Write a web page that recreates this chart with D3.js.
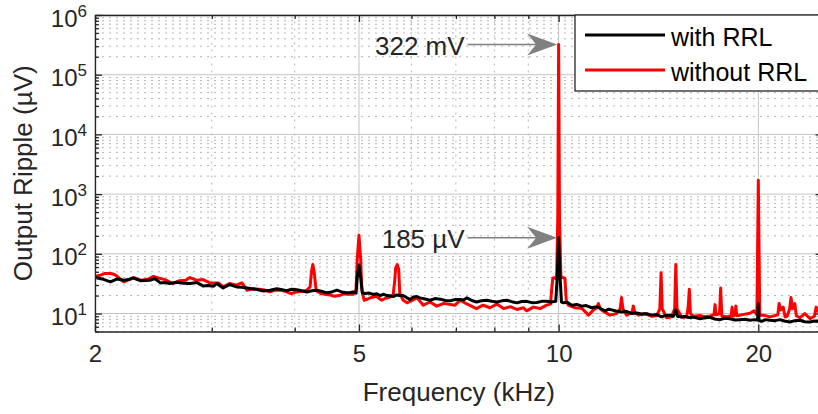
<!DOCTYPE html>
<meta charset="utf-8">
<style>
body {
  background: #fff;
  margin: 0;
  padding: 0;
}
svg {
  display: block;
  font-family: "Liberation Sans", Arial, Helvetica, sans-serif;
}
.grid-major line {
  stroke: #c4c4c4;
  stroke-width: 1px;
}
.grid-minor line {
  stroke: #b4b4b4;
  stroke-width: 1px;
  stroke-dasharray: 2,5;
}
.axis path, .axis line {
  stroke: #262626;
  stroke-width: 1.3px;
}
.axis text {
  fill: #262626;
  font-size: 24px;
}
.series {
  fill: none;
  stroke-width: 3px;
  stroke-linejoin: round;
}
.label {
  fill: #262626;
  font-size: 26px;
  text-anchor: middle;
}
.note {
  fill: #262626;
  font-size: 26px;
}
.arrow {
  stroke: #808080;
  stroke-width: 1.5px;
}
.arrowhead {
  fill: #808080;
}
.legend-box {
  fill: #fff;
  stroke: #262626;
  stroke-width: 1.3px;
}
.legend text {
  fill: #000;
  font-size: 25px;
}
</style>
<body>
<script src="https://d3js.org/d3.v7.min.js"></script>
<script>
// spectrum, frequency in kHz, ripple in uV
var freqWith = [2.00, 2.05, 2.11, 2.16, 2.21, 2.25, 2.28, 2.34, 2.42, 2.46, 2.51, 2.55, 2.59, 2.66, 2.72, 2.78,
  2.85, 2.91, 2.96, 3.02, 3.05, 3.12, 3.19, 3.27, 3.33, 3.39, 3.45, 3.51, 3.59, 3.67, 3.76, 3.83, 3.89, 3.96,
  4.03, 4.10, 4.17, 4.25, 4.32, 4.40, 4.47, 4.55, 4.63, 4.71, 4.79, 4.85, 4.90, 4.95, 4.97, 5.00, 5.03, 5.06,
  5.11, 5.18, 5.26, 5.32, 5.38, 5.45, 5.51, 5.57, 5.63, 5.70, 5.76, 5.83, 5.90, 5.97, 6.04, 6.11, 6.18, 6.29,
  6.40, 6.51, 6.63, 6.75, 6.86, 6.98, 7.10, 7.19, 7.27, 7.40, 7.52, 7.65, 7.79, 7.93, 8.07, 8.21, 8.35, 8.50,
  8.65, 8.80, 8.95, 9.11, 9.27, 9.43, 9.59, 9.75, 9.90, 9.95, 10.00, 10.05, 10.10, 10.17, 10.30, 10.47, 10.65,
  10.84, 11.00, 11.22, 11.35, 11.48, 11.62, 11.75, 11.90, 12.02, 12.20, 12.44, 12.65, 12.89, 13.10, 13.34,
  13.58, 13.82, 14.06, 14.30, 14.50, 14.72, 14.90, 15.02, 15.12, 15.33, 15.50, 15.69, 15.95, 16.34, 16.60,
  16.91, 17.20, 17.51, 17.80, 18.13, 18.45, 18.77, 19.10, 19.43, 19.75, 19.95, 20.00, 20.05, 20.24, 20.50,
  20.83, 21.20, 21.56, 21.90, 22.32, 22.70, 23.11, 23.50, 23.93, 24.30, 24.60, 25.00];
var rippleWith = [40, 38, 34, 38, 36, 37, 39.5, 35.5, 36, 38.5, 32.6, 33, 31.8, 33.5, 32, 31.8,
  33, 29, 29.5, 28.6, 31.8, 26.8, 30.5, 27.9, 27.5, 26.8, 26, 25.2, 23.8, 24.6, 26, 25, 24.2, 25.5,
  25, 24, 23, 24, 24.6, 23.5, 22.2, 23, 24.6, 23, 22.2, 22.5, 23, 22, 40, 65, 40, 22,
  21.6, 22, 20.8, 21.5, 20, 21, 20, 19.8, 19.2, 20.5, 20, 20, 18.5, 17.2, 19, 19.2, 18.3, 17.5,
  16.7, 17.8, 17.4, 16.5, 16.3, 17.2, 17.2, 16.8, 18.3, 16.5, 15.6, 16.4, 16.7, 16, 15.6, 16.3, 16.7, 15.8,
  15.1, 15.9, 16, 15.2, 15.3, 16, 16, 15.6, 16, 40, 185, 40, 15.5, 15.1, 15.5, 13.8, 14.2,
  13.3, 13.6, 12.5, 12.9, 12.8, 11.8, 11.1, 11.8, 11.5, 11, 10.6, 10.8, 10, 10.2, 9.8,
  9.9, 9.4, 9.6, 8.8, 9.3, 9.4, 9, 11.4, 8.9, 8.8, 8.9, 8.6, 8.7, 8.2, 8.5,
  8.6, 8.1, 7.9, 8.3, 8.2, 7.8, 7.9, 8, 7.7, 7.9, 7.8, 14.7, 7.6, 7.4, 7.9,
  7.7, 7.6, 7.9, 7.5, 7.2, 7.6, 7.7, 7.3, 7.2, 7.5, 7.4, 7.3];

var freqWithout = [2.00, 2.04, 2.07, 2.11, 2.14, 2.16, 2.21, 2.25, 2.29, 2.35, 2.41, 2.45, 2.51, 2.55, 2.62,
  2.68, 2.74, 2.78, 2.85, 2.91, 2.98, 3.07, 3.12, 3.19, 3.27, 3.33, 3.39, 3.47, 3.59, 3.67, 3.73, 3.81, 3.87,
  3.95, 4.03, 4.11, 4.17, 4.22, 4.24, 4.26, 4.28, 4.31, 4.38, 4.44, 4.52, 4.59, 4.67, 4.75, 4.82, 4.90, 4.95,
  4.97, 5.00, 5.03, 5.05, 5.09, 5.15, 5.22, 5.30, 5.34, 5.41, 5.48, 5.55, 5.63, 5.66, 5.68, 5.71, 5.74, 5.76,
  5.83, 5.91, 6.00, 6.12, 6.25, 6.40, 6.55, 6.71, 6.98, 7.10, 7.27, 7.52, 7.69, 7.88, 8.07, 8.26, 8.45, 8.65,
  8.85, 8.95, 9.16, 9.38, 9.59, 9.72, 9.76, 9.80, 9.86, 9.93, 9.97, 10.00, 10.03, 10.08, 10.15, 10.22, 10.27,
  10.34, 10.59, 10.84, 11.09, 11.28, 11.42, 11.48, 11.55, 11.68, 11.95, 12.23, 12.38, 12.44, 12.50, 12.66,
  12.90, 12.96, 13.02, 13.19, 13.50, 13.82, 14.06, 14.21, 14.27, 14.33, 14.55, 14.80, 14.96, 15.02, 15.08,
  15.33, 15.60, 15.68, 15.74, 15.80, 15.95, 16.34, 16.60, 16.91, 17.15, 17.21, 17.27, 17.48, 17.55, 17.62,
  17.90, 18.20, 18.26, 18.32, 18.45, 18.50, 18.56, 18.77, 19.43, 19.70, 19.90, 19.96, 20.00, 20.04, 20.10,
  20.35, 20.83, 21.40, 21.50, 21.60, 21.80, 21.95, 22.10, 22.30, 22.40, 22.52, 22.70, 22.82, 23.11, 23.50,
  23.93, 24.30, 24.45, 24.60, 25.00];
var rippleWithout = [42, 44, 47, 47, 45, 42, 34, 37, 40, 36, 38, 42, 38.5, 37, 31.8,
  35.5, 36, 40, 36, 37, 32.6, 32.6, 27.9, 31.8, 29.8, 32.6, 24.6, 26, 25, 23.2, 24.5, 24.8, 23.5,
  21.6, 23, 23.5, 24.5, 28, 50, 66, 50, 24, 21.6, 21, 20.5, 19.5, 20, 21.5, 21, 21, 25,
  80, 204, 80, 25, 16.7, 17.5, 18.6, 19.5, 18.5, 16.7, 18, 18.6, 20.5, 35, 58, 66, 55, 22,
  16.7, 15.1, 16.5, 18.3, 13.8, 15.6, 13.3, 14.8, 13.8, 16.7, 14.5, 12.1, 13.8, 12.5, 14.4, 12.1, 13, 11.7,
  12.5, 11.1, 12.8, 12.1, 13.8, 14.4, 25, 39, 40, 38, 400, 322000, 400, 40, 40, 39, 16,
  13.8, 12.5, 12.2, 9.4, 11.4, 12.5, 14.7, 12, 10.9, 9.4, 10, 12, 18.5, 12, 9.4,
  10.5, 13.4, 10.5, 9.4, 10, 9, 9.2, 12, 48, 12, 8.5, 8.8, 12, 66, 12,
  8.6, 8.9, 13, 25.5, 10, 9, 9.3, 8.8, 9.1, 9.5, 14.1, 9.5, 10, 26.8, 9,
  8.8, 9.2, 12.8, 9, 9.5, 13.4, 9.2, 9.4, 10.1, 11.1, 9.5, 200, 1700, 200, 9.4,
  9.4, 8.8, 9.5, 14.7, 11.5, 12.8, 8.8, 9, 12, 18.5, 12, 14.7, 9.2, 8.5, 10,
  8.2, 9, 12.8, 11, 10];

var seriesNames = ["with RRL", "without RRL"];
var seriesColors = ["#000000", "#ff0000"];

var xTicks = [2, 5, 10, 20];
var xMinorTicks = [3, 4, 6, 7, 8, 9];
var yExponents = [1, 2, 3, 4, 5, 6];
var yMinorTicks = [5, 6, 7, 8, 9,
  20, 30, 40, 50, 60, 70, 80, 90,
  200, 300, 400, 500, 600, 700, 800, 900,
  2e3, 3e3, 4e3, 5e3, 6e3, 7e3, 8e3, 9e3,
  2e4, 3e4, 4e4, 5e4, 6e4, 7e4, 8e4, 9e4,
  2e5, 3e5, 4e5, 5e5, 6e5, 7e5, 8e5, 9e5];

var notes = [
  {text: "322 mV", f: 10, v: 322000},
  {text: "185 \u00b5V", f: 10, v: 185}
];

var width = 818,
    height = 414,
    plotL = 95,
    plotR = 822.6,
    plotT = 15,
    plotB = 331.5;

var x = d3.scaleLog().domain([2, 25]).range([plotL, plotR]);
var y = d3.scaleLog().domain([5, 1e6]).range([plotB, plotT]);

var svg = d3.select("body").append("svg")
    .attr("width", width)
    .attr("height", height);

svg.append("defs").append("clipPath")
    .attr("id", "clip")
  .append("rect")
    .attr("x", plotL)
    .attr("y", plotT)
    .attr("width", plotR - plotL)
    .attr("height", plotB - plotT);

// grid
var gridMinor = svg.append("g").attr("class", "grid-minor");
gridMinor.selectAll("line.h")
    .data(yMinorTicks)
  .enter().append("line")
    .attr("class", "h")
    .attr("x1", plotL).attr("x2", plotR)
    .attr("y1", function(d) { return y(d); })
    .attr("y2", function(d) { return y(d); });
gridMinor.selectAll("line.v")
    .data(xMinorTicks)
  .enter().append("line")
    .attr("class", "v")
    .attr("x1", function(d) { return x(d); })
    .attr("x2", function(d) { return x(d); })
    .attr("y1", plotB).attr("y2", plotT);

var gridMajor = svg.append("g").attr("class", "grid-major");
gridMajor.selectAll("line.h")
    .data(yExponents)
  .enter().append("line")
    .attr("class", "h")
    .attr("x1", plotL).attr("x2", plotR)
    .attr("y1", function(d) { return y(Math.pow(10, d)); })
    .attr("y2", function(d) { return y(Math.pow(10, d)); });
gridMajor.selectAll("line.v")
    .data(xTicks)
  .enter().append("line")
    .attr("class", "v")
    .attr("x1", function(d) { return x(d); })
    .attr("x2", function(d) { return x(d); })
    .attr("y1", plotB).attr("y2", plotT);

// data
var line = d3.line()
    .x(function(d) { return x(d[0]); })
    .y(function(d) { return y(d[1]); });

var plot = svg.append("g").attr("clip-path", "url(#clip)");
plot.append("path")
    .datum(d3.zip(freqWithout, rippleWithout))
    .attr("class", "series")
    .attr("stroke", seriesColors[1])
    .attr("d", line);
plot.append("path")
    .datum(d3.zip(freqWith, rippleWith))
    .attr("class", "series")
    .attr("stroke", seriesColors[0])
    .attr("d", line);

// axes, ticks pointing in
var yDecades = yExponents.map(function(e) { return Math.pow(10, e); });

svg.append("g")
    .attr("class", "axis")
    .attr("transform", "translate(0," + plotB + ")")
    .call(d3.axisBottom(x).tickValues(xTicks).tickFormat(d3.format("d"))
      .tickSizeInner(-7).tickSizeOuter(0).tickPadding(30))
    .call(function(g) { g.selectAll("text").attr("dy", "0"); });
svg.append("g")
    .attr("class", "axis")
    .attr("transform", "translate(0," + plotB + ")")
    .call(d3.axisBottom(x).tickValues(xMinorTicks).tickFormat("").tickSizeInner(-4).tickSizeOuter(0))
    .call(function(g) { g.select(".domain").remove(); });
svg.append("g")
    .attr("class", "axis")
    .attr("transform", "translate(0," + plotT + ")")
    .call(d3.axisTop(x).tickValues(xTicks).tickFormat("").tickSizeInner(-7).tickSizeOuter(0));
svg.append("g")
    .attr("class", "axis")
    .attr("transform", "translate(0," + plotT + ")")
    .call(d3.axisTop(x).tickValues(xMinorTicks).tickFormat("").tickSizeInner(-4).tickSizeOuter(0))
    .call(function(g) { g.select(".domain").remove(); });

var yAxis = svg.append("g")
    .attr("class", "axis")
    .attr("transform", "translate(" + plotL + ",0)")
    .call(d3.axisLeft(y).tickValues(yDecades).tickSizeInner(-7).tickSizeOuter(0).tickPadding(8));
yAxis.selectAll(".tick text")
    .text(null)
    .attr("dy", "11px")
    .each(function(d) {
      var t = d3.select(this);
      t.append("tspan").text("10");
      t.append("tspan")
        .attr("dy", "-10px")
        .attr("font-size", "17px")
        .text(Math.round(Math.log10(d)));
    });
svg.append("g")
    .attr("class", "axis")
    .attr("transform", "translate(" + plotL + ",0)")
    .call(d3.axisLeft(y).tickValues(yMinorTicks).tickFormat("").tickSizeInner(-4).tickSizeOuter(0))
    .call(function(g) { g.select(".domain").remove(); });
svg.append("g")
    .attr("class", "axis")
    .attr("transform", "translate(" + plotR + ",0)")
    .call(d3.axisRight(y).tickValues(yDecades).tickFormat("").tickSizeInner(-7).tickSizeOuter(0));
svg.append("g")
    .attr("class", "axis")
    .attr("transform", "translate(" + plotR + ",0)")
    .call(d3.axisRight(y).tickValues(yMinorTicks).tickFormat("").tickSizeInner(-4).tickSizeOuter(0))
    .call(function(g) { g.select(".domain").remove(); });

// axis labels
svg.append("text")
    .attr("class", "label")
    .attr("x", (plotL + plotR) / 2)
    .attr("y", 401)
    .text("Frequency (kHz)");
svg.append("text")
    .attr("class", "label")
    .attr("transform", "translate(32," + (plotT + plotB) / 2 + ") rotate(-90)")
    .text("Output Ripple (\u00b5V)");

// annotations
var ann = svg.append("g").selectAll("g")
    .data(notes)
  .enter().append("g");
ann.append("line")
    .attr("class", "arrow")
    .attr("x1", function(d) { return x(d.f) - 91; })
    .attr("x2", function(d) { return x(d.f) - 20; })
    .attr("y1", function(d) { return y(d.v); })
    .attr("y2", function(d) { return y(d.v); });
ann.append("path")
    .attr("class", "arrowhead")
    .attr("d", function(d) {
      var tx = x(d.f) - 1.5, ty = y(d.v);
      return "M" + tx + "," + ty + "L" + (tx - 30) + "," + (ty - 11) +
        "L" + (tx - 21) + "," + ty + "L" + (tx - 30) + "," + (ty + 11) + "Z";
    });
ann.append("text")
    .attr("class", "note")
    .attr("text-anchor", "end")
    .attr("x", function(d) { return x(d.f) - 94; })
    .attr("y", function(d) { return y(d.v) + 10.5; })
    .text(function(d) { return d.text; });

// legend
var legend = svg.append("g").attr("class", "legend");
legend.append("rect")
    .attr("class", "legend-box")
    .attr("x", 575)
    .attr("y", plotT)
    .attr("width", 260)
    .attr("height", 76);
var item = legend.selectAll("g")
    .data(seriesNames)
  .enter().append("g")
    .attr("transform", function(d, i) { return "translate(585," + (35 + i * 35) + ")"; });
item.append("line")
    .attr("x1", 0).attr("x2", 80)
    .attr("stroke", function(d, i) { return seriesColors[i]; })
    .attr("stroke-width", 3);
item.append("text")
    .attr("x", 86)
    .attr("y", 10.5)
    .text(function(d) { return d; });
</script>
</body>
